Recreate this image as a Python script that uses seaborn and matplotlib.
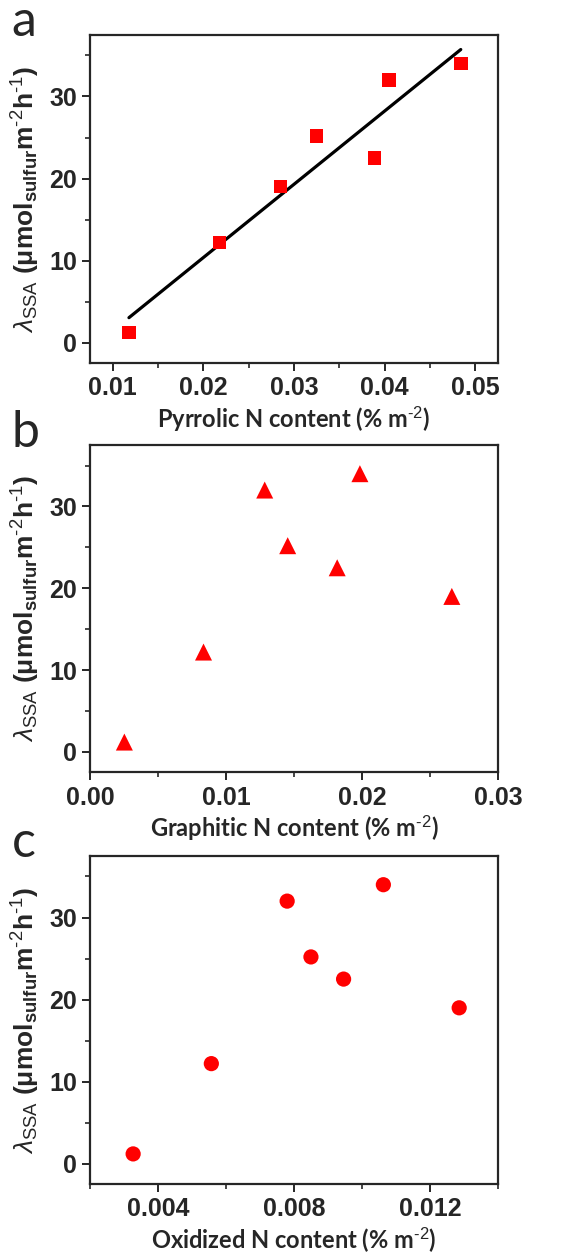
import numpy as np
import pandas as pd
import seaborn as sns
import matplotlib.pyplot as plt
from matplotlib.ticker import MultipleLocator, FormatStrFormatter

# activity (same for every panel)
lambda_ssa = [1.2, 12.2, 19.0, 25.2, 22.5, 32.0, 34.0]

pyrrolic_n = [0.0118, 0.0218, 0.0285, 0.0325, 0.0389, 0.0405, 0.0484]
graphitic_n = [0.00253, 0.00835, 0.02661, 0.01454, 0.01818, 0.01285, 0.01985]
oxidized_n = [0.00327, 0.00557, 0.01286, 0.0085, 0.00946, 0.0078, 0.01063]

panel_letters = ['a', 'b', 'c']
x_labels = [r'Pyrrolic N content (% m$^{\text{-2}}$)',
            r'Graphitic N content (% m$^{\text{-2}}$)',
            r'Oxidized N content (% m$^{\text{-2}}$)']
y_label = (r'$\lambda_{\rm SSA}$ '
           r'$\mathbf{(\mu mol_{sulfur}m^{\text{-2}}h^{\text{-1}})}$')

sns.set_style('ticks')
plt.rcParams['font.family'] = ['Liberation Sans Narrow', 'Liberation Sans', 'DejaVu Sans']
plt.rcParams['mathtext.fontset'] = 'custom'
plt.rcParams['mathtext.rm'] = 'Liberation Sans'
plt.rcParams['mathtext.bf'] = 'Liberation Sans:bold'
plt.rcParams['mathtext.it'] = 'Liberation Sans:italic'

df = pd.DataFrame({'lam': lambda_ssa, 'pyr': pyrrolic_n,
                   'gra': graphitic_n, 'oxi': oxidized_n})

fig = plt.figure(figsize=(5.73, 12.54), dpi=100)
ax_a = fig.add_axes([0.157, 0.7105, 0.712, 0.2616])
ax_b = fig.add_axes([0.157, 0.3841, 0.712, 0.2610])
ax_c = fig.add_axes([0.157, 0.0556, 0.712, 0.2618])

# a: pyrrolic N with linear fit
sns.regplot(data=df, x='pyr', y='lam', scatter=False, ci=None, color='k',
            line_kws={'lw': 2.3}, ax=ax_a)
sns.scatterplot(data=df, x='pyr', y='lam', marker='s', s=95, color='red',
                edgecolor='none', ax=ax_a, zorder=3)
ax_a.set_xlim(0.0075, 0.0525)
ax_a.xaxis.set_major_locator(MultipleLocator(0.01))
ax_a.xaxis.set_minor_locator(MultipleLocator(0.005))
ax_a.xaxis.set_major_formatter(FormatStrFormatter('%.2f'))

# b: graphitic N
sns.scatterplot(data=df, x='gra', y='lam', marker='^', s=150, color='red',
                edgecolor='none', ax=ax_b)
ax_b.set_xlim(0, 0.03)
ax_b.xaxis.set_major_locator(MultipleLocator(0.01))
ax_b.xaxis.set_minor_locator(MultipleLocator(0.005))
ax_b.xaxis.set_major_formatter(FormatStrFormatter('%.2f'))

# c: oxidized N
sns.scatterplot(data=df, x='oxi', y='lam', marker='o', s=120, color='red',
                edgecolor='none', ax=ax_c)
ax_c.set_xlim(0.002, 0.014)
ax_c.xaxis.set_major_locator(MultipleLocator(0.004))
ax_c.xaxis.set_minor_locator(MultipleLocator(0.002))
ax_c.xaxis.set_major_formatter(FormatStrFormatter('%.3f'))

for ax, letter, xl in zip([ax_a, ax_b, ax_c], panel_letters, x_labels):
    ax.set_ylim(-2.5, 37.5)
    ax.yaxis.set_major_locator(MultipleLocator(10))
    ax.yaxis.set_minor_locator(MultipleLocator(5))
    for side in ['top', 'right', 'left', 'bottom']:
        ax.spines[side].set_linewidth(1.6)
    ax.tick_params(which='major', length=6, width=1.4, labelsize=18)
    ax.tick_params(which='minor', length=3.5, width=1.2)
    for lbl in ax.get_xticklabels() + ax.get_yticklabels():
        lbl.set_fontweight('bold')
    ax.set_xlabel(xl, fontsize=17, fontweight='bold', family=['Lato', 'DejaVu Sans'],
                  labelpad=3)
    ax.set_ylabel(y_label, fontsize=19, labelpad=5)
    pos = ax.get_position()
    fig.text(0.02, pos.y1 + 0.01, letter, fontsize=36, family=['Lato', 'DejaVu Sans'],
             va='center', ha='left')

fig.savefig('out.png', dpi=100)
